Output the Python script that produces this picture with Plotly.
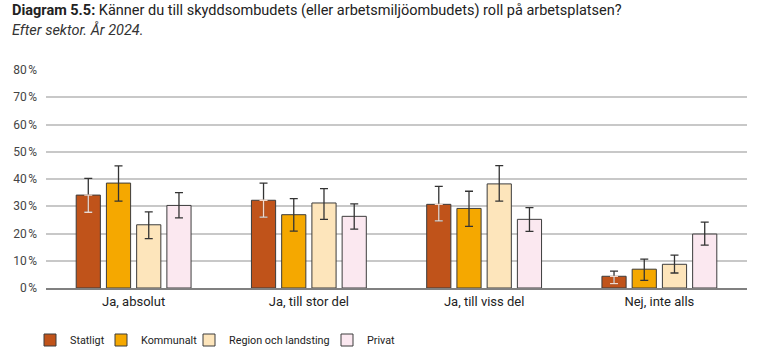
import plotly.graph_objects as go

categories = ["Ja, absolut", "Ja, till stor del", "Ja, till viss del", "Nej, inte alls"]
series_names = ["Statligt", "Kommunalt", "Region och landsting", "Privat"]

statligt = [34.1, 32.2, 30.7, 4.3]
statligt_hi = [40.2, 38.5, 37.3, 6.2]
statligt_lo = [27.8, 26.0, 24.6, 1.6]

kommunalt = [38.5, 26.9, 29.2, 6.9]
kommunalt_hi = [44.8, 32.8, 35.5, 10.6]
kommunalt_lo = [31.9, 20.9, 22.6, 2.8]

region = [23.2, 31.2, 38.2, 8.7]
region_hi = [27.9, 36.5, 44.9, 12.1]
region_lo = [18.1, 25.2, 31.9, 5.5]

privat = [30.3, 26.3, 25.2, 19.8]
privat_hi = [35.0, 30.9, 29.5, 24.2]
privat_lo = [25.7, 21.6, 20.8, 15.7]

values = [statligt, kommunalt, region, privat]
highs = [statligt_hi, kommunalt_hi, region_hi, privat_hi]
lows = [statligt_lo, kommunalt_lo, region_lo, privat_lo]
colors = ["#C0531A", "#F5A800", "#FDE5BB", "#FBE8F0"]
legend_widths = [26, 43, 93, 40]

y_ticks = [0, 10, 20, 30, 40, 50, 60, 70, 80]
y_ticktext = [f"{v}\u202f%" for v in y_ticks]

FONT = "Roboto, Arial, sans-serif"

W, H = 765, 361

fig = go.Figure()
for name, v, hi, lo, c, lw in zip(series_names, values, highs, lows, colors, legend_widths):
    fig.add_trace(go.Bar(
        name=name, x=categories, y=v, offsetgroup=name,
        marker=dict(color=c, line=dict(color="#3c3c3c", width=1)),
        error_y=dict(type="data", symmetric=False,
                     array=[h - a for h, a in zip(hi, v)],
                     arrayminus=[a - l for a, l in zip(v, lo)],
                     color="#333333", thickness=1.3, width=4),
        legendwidth=lw,
        hoverinfo="skip",
    ))

# light lower part of error bar on the dark bars
fig.add_trace(go.Bar(
    name="Statligt", x=categories, y=statligt, offsetgroup="Statligt",
    marker=dict(color="rgba(0,0,0,0)", line=dict(width=0)),
    error_y=dict(type="data", symmetric=False,
                 array=[0] * len(statligt),
                 arrayminus=[a - l for a, l in zip(statligt, statligt_lo)],
                 color="#F3D9CC", thickness=1.3, width=4),
    showlegend=False, hoverinfo="skip",
))

fig.update_layout(
    width=W, height=H,
    margin=dict(l=46, r=18, t=70, b=73, autoexpand=False),
    paper_bgcolor="white", plot_bgcolor="white",
    barmode="group", bargap=0.31, bargroupgap=0.2,
    font=dict(family=FONT, color="#222222"),
    showlegend=True,
    legend=dict(orientation="h", xref="container", yref="container",
                x=30 / W, xanchor="left", y=(H - 340) / H, yanchor="middle",
                font=dict(size=10.8, color="#222222"), traceorder="normal",
                itemwidth=30),
    yaxis=dict(range=[0, 80], tickvals=y_ticks, ticktext=y_ticktext,
               showgrid=True, gridcolor="#C8C8C8", gridwidth=1.5,
               zeroline=False, showline=False, automargin=False,
               ticklabelstandoff=8,
               tickfont=dict(size=12, color="#444444"), ticks="", ticklen=0),
    xaxis=dict(showline=True, linecolor="#808080", linewidth=2, automargin=False,
               tickfont=dict(size=13, color="#222222"), ticks=""),
    annotations=[
        dict(xref="paper", yref="paper", x=-36 / 701, y=(288 - 11) / 218,
             xanchor="left", yanchor="middle", showarrow=False,
             text="<b>Diagram 5.5:</b> Känner du till skyddsombudets (eller arbetsmiljöombudets) roll på arbetsplatsen?",
             font=dict(size=14.5, color="#222222", family=FONT)),
        dict(xref="paper", yref="paper", x=-36 / 701, y=(288 - 30) / 218,
             xanchor="left", yanchor="middle", showarrow=False,
             text="<i>Efter sektor. År 2024.</i>",
             font=dict(size=14.5, color="#333333", family=FONT)),
    ],
)

fig.write_html("out.html", config={"displayModeBar": False},
               post_script="document.body.style.margin='0';")
